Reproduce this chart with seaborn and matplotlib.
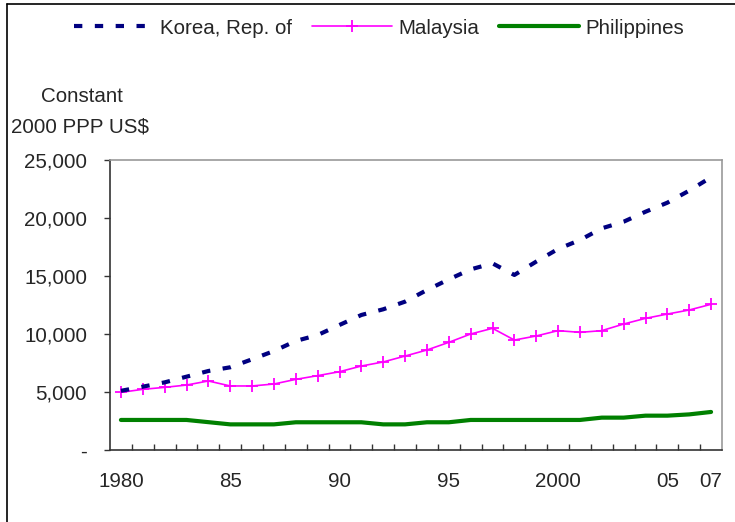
import numpy as np
import pandas as pd
import matplotlib
matplotlib.use("Agg")
import matplotlib.pyplot as plt
import seaborn as sns
from matplotlib.lines import Line2D

# GDP per capita, constant 2000 PPP US$
years = list(range(1980, 2008))
korea = [5100, 5460, 5830, 6320, 6810, 7130, 7820, 8530, 9400, 9910,
         10780, 11640, 12130, 12790, 13790, 14710, 15570, 16090, 15090, 16240,
         17330, 18100, 19110, 19680, 20540, 21320, 22360, 23510]
malaysia = [4970, 5230, 5400, 5600, 5950, 5520, 5520, 5690, 6090, 6410,
            6750, 7240, 7590, 8100, 8620, 9280, 10000, 10490, 9480, 9830,
            10290, 10140, 10290, 10860, 11350, 11720, 12070, 12560]
philippines = [2590, 2590, 2590, 2590, 2400, 2210, 2210, 2210, 2390, 2390,
               2390, 2390, 2210, 2210, 2390, 2390, 2590, 2590, 2590, 2590,
               2590, 2590, 2790, 2790, 2960, 2960, 3070, 3280]
tick_pos = [0, 5, 10, 15, 20, 25, 27]
tick_labels = ["1980", "85", "90", "95", "2000", "05", "07"]

FS = 14.8

sns.set_style("white")
plt.rcParams['font.family'] = ['Liberation Sans', 'DejaVu Sans']
plt.rcParams['font.size'] = FS

fig = plt.figure(figsize=(7.35, 5.22), dpi=100)
ax = fig.add_axes([110 / 735, 72 / 522, 612 / 735, 290 / 522])

idx = np.arange(len(years))
df = pd.DataFrame({"i": idx, "korea": korea, "malaysia": malaysia, "philippines": philippines})

sns.lineplot(data=df, x="i", y="philippines", ax=ax, color="#008000", lw=3.0)
sns.lineplot(data=df, x="i", y="malaysia", ax=ax, color="#FF00FF", lw=1.2,
             marker="+", markersize=9, markeredgewidth=1.3, markeredgecolor="#FF00FF")
sns.lineplot(data=df, x="i", y="korea", ax=ax, color="#000080", lw=3.0,
             dashes=False)
ax.lines[-1].set_dashes((2.0, 3.0))

ax.set_xlim(-0.5, len(years) - 0.5)
ax.set_ylim(0, 25000)
ax.set_xlabel("")
ax.set_ylabel("")

ax.set_xticks(tick_pos)
ax.set_xticklabels(tick_labels)
ax.set_xticks(np.arange(0.5, len(years) - 0.5, 1), minor=True)
ax.tick_params(axis="x", which="major", length=0, pad=16, labelsize=FS)
ax.tick_params(axis="x", which="minor", direction="in", length=4, width=1, color="#333333", bottom=True)

ax.set_yticks([0, 5000, 10000, 15000, 20000, 25000])
ax.set_yticklabels(["-", "5,000", "10,000", "15,000", "20,000", "25,000"])
ax.tick_params(axis="y", direction="out", length=4.5, width=1, color="#333333", left=True, pad=12, labelsize=FS)

for s in ["left", "bottom"]:
    ax.spines[s].set_color("#333333")
    ax.spines[s].set_linewidth(1.2)
for s in ["top", "right"]:
    ax.spines[s].set_color("#999999")
    ax.spines[s].set_linewidth(1.2)

fig.text(82 / 735, 1 - 97 / 522, "Constant", ha="center", va="center", fontsize=FS)
fig.text(80 / 735, 1 - 127 / 522, "2000 PPP US$", ha="center", va="center", fontsize=FS)

handles = [
    Line2D([], [], color="#000080", lw=3.0, dashes=(2.0, 3.0)),
    Line2D([], [], color="#FF00FF", lw=1.2, marker="+", markersize=9, markeredgewidth=1.3),
    Line2D([], [], color="#008000", lw=3.0),
]
fig.legend(handles, ["Korea, Rep. of", "Malaysia", "Philippines"], ncol=3,
           loc="center", bbox_to_anchor=(379 / 735, 1 - 28 / 522), frameon=False,
           handlelength=3.9, columnspacing=0.95, handletextpad=0.3, fontsize=FS)

# outer frame lines (left and top only, as in the original)
fig.add_artist(Line2D([7 / 735, 7 / 735], [0, 1 - 4 / 522], transform=fig.transFigure, color="black", lw=1.2))
fig.add_artist(Line2D([7 / 735, 1], [1 - 4 / 522, 1 - 4 / 522], transform=fig.transFigure, color="black", lw=1.2))

fig.savefig("out.png", dpi=100)
